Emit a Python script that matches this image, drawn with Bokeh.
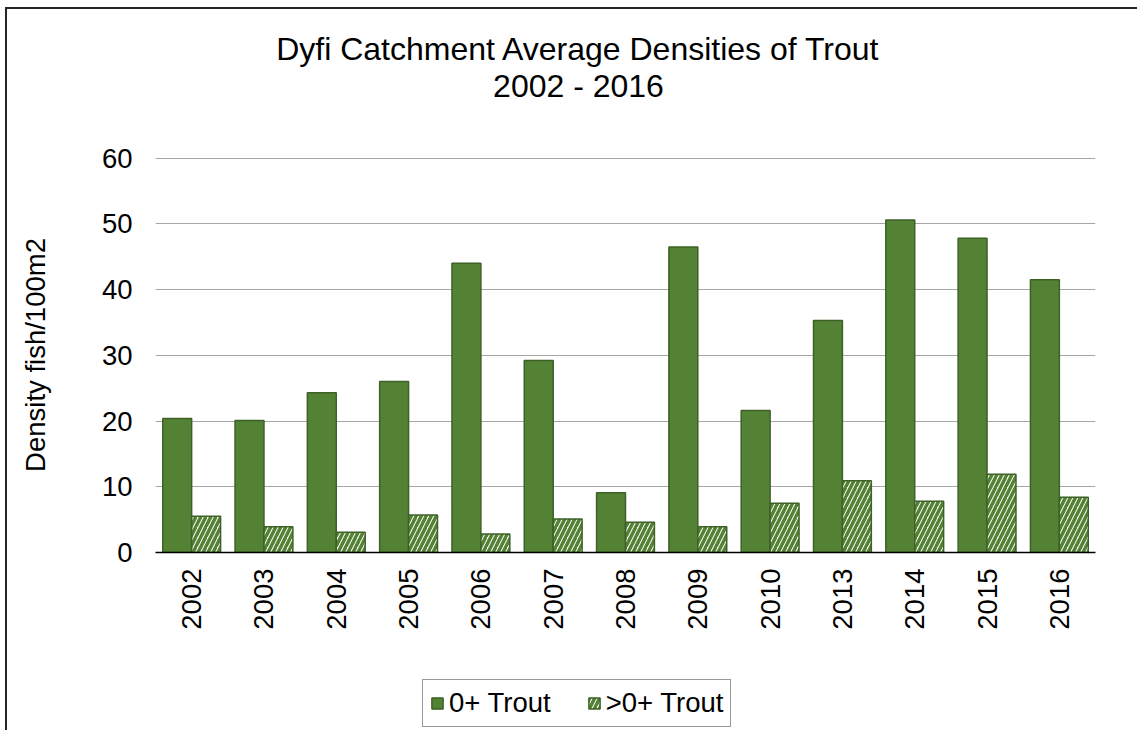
import math
from bokeh.plotting import figure
from bokeh.layouts import column
from bokeh.models import (FactorRange, FixedTicker, Legend, LegendItem, Label,
                          ColumnDataSource, Range1d)
from bokeh.transform import dodge
from bokeh.embed import file_html
from bokeh.resources import INLINE

years = ["2002", "2003", "2004", "2005", "2006", "2007", "2008", "2009",
         "2010", "2013", "2014", "2015", "2016"]
trout_0plus = [20.4, 20.1, 24.3, 26.0, 44.0, 29.2, 9.1, 46.5, 21.6, 35.3, 50.6, 47.8, 41.5]
trout_gt0plus = [5.5, 3.9, 3.1, 5.7, 2.8, 5.1, 4.6, 3.9, 7.5, 10.9, 7.8, 11.9, 8.4]
y_ticks = [0, 10, 20, 30, 40, 50, 60]
series_names = ["0+ Trout", ">0+ Trout"]
title_lines = ["Dyfi Catchment Average Densities of Trout", "2002 - 2016"]
y_label = "Density fish/100m2"

FONT = "Liberation Sans"
FS = "27.5px"
GREEN = "#548235"
EDGE = "#3d6127"
W = 1130
FRAME_W = 940  # width of the aligned plot frames

solid_style = dict(fill_color=GREEN, line_color=EDGE, line_width=1.5)
hatch_style = dict(fill_color="white", hatch_pattern="/", hatch_color=GREEN,
                   hatch_weight=3.5, hatch_scale=10, line_color=EDGE, line_width=1.5)


def bare(fig):
    fig.title.visible = False
    fig.outline_line_color = None
    fig.xgrid.grid_line_color = None
    fig.ygrid.grid_line_color = None
    fig.background_fill_color = "white"
    fig.border_fill_color = "white"
    return fig


# ---- title strip ----
pt = bare(figure(width=W, height=128, x_range=Range1d(0, FRAME_W), y_range=Range1d(0, 128),
                 x_axis_location=None, y_axis_location=None,
                 min_border_left=148, min_border_right=42, min_border_top=0,
                 min_border_bottom=0,
                 output_backend="svg", toolbar_location=None))
pt.add_layout(Label(x=423, y=89, text=title_lines[0], text_align="center",
                    text_baseline="middle", text_font=FONT, text_font_size="32px",
                    text_color="black"))
pt.add_layout(Label(x=423, y=52, text=title_lines[1], text_align="center",
                    text_baseline="middle", text_font=FONT, text_font_size="32px",
                    text_color="black"))

# ---- main chart ----
src = ColumnDataSource(dict(year=years, a=trout_0plus, b=trout_gt0plus))
p = figure(x_range=FactorRange(*years, range_padding=0), y_range=Range1d(0, 60.1),
           width=W, height=523, output_backend="svg", toolbar_location=None,
           min_border_left=148, min_border_right=42, min_border_top=20,
           min_border_bottom=108)
p.title.visible = False
p.outline_line_color = None
p.border_fill_color = "white"

p.vbar(x=dodge("year", -0.2, range=p.x_range), top="a", width=0.4, source=src,
       **solid_style)
p.vbar(x=dodge("year", 0.2, range=p.x_range), top="b", width=0.4, source=src,
       **hatch_style)

p.xgrid.grid_line_color = None
p.ygrid.grid_line_color = "#a6a6a6"
p.ygrid.grid_line_width = 1

p.yaxis.ticker = FixedTicker(ticks=y_ticks)
p.yaxis.axis_line_color = None
p.yaxis.major_tick_line_color = None
p.yaxis.minor_tick_line_color = None
p.yaxis.major_tick_out = 0
p.yaxis.major_tick_in = 0
p.yaxis.major_label_text_font = FONT
p.yaxis.major_label_text_font_size = FS
p.yaxis.major_label_text_color = "black"
p.yaxis.major_label_standoff = 23
p.yaxis.axis_label = y_label
p.yaxis.axis_label_text_font = FONT
p.yaxis.axis_label_text_font_size = FS
p.yaxis.axis_label_text_font_style = "normal"
p.yaxis.axis_label_text_color = "black"
p.yaxis.axis_label_standoff = 48

p.xaxis.axis_line_color = "black"
p.xaxis.axis_line_width = 1.5
p.xaxis.major_tick_line_color = None
p.xaxis.minor_tick_line_color = None
p.xaxis.major_tick_out = 0
p.xaxis.major_tick_in = 0
p.xaxis.major_label_orientation = math.pi / 2
p.xaxis.major_label_text_font = FONT
p.xaxis.major_label_text_font_size = FS
p.xaxis.major_label_text_color = "black"
p.xaxis.major_label_standoff = 16

# ---- legend strip ----
pl = bare(figure(width=W, height=70, x_range=Range1d(0, 1), y_range=Range1d(0, 1),
                 x_axis_location=None, y_axis_location=None,
                 min_border_left=148, min_border_right=42, min_border_top=0,
                 min_border_bottom=0,
                 output_backend="svg", toolbar_location=None))
# legend swatches only: one undrawable (NaN height) mark each
swatch = ColumnDataSource(dict(x=[0.5], top=[float("nan")]))
g1 = pl.vbar(x="x", top="top", width=0.1, source=swatch, **solid_style)
g2 = pl.vbar(x="x", top="top", width=0.1, source=swatch, **hatch_style)
legend = Legend(items=[LegendItem(label=series_names[0], renderers=[g1], index=0),
                       LegendItem(label=series_names[1], renderers=[g2], index=0)],
                orientation="horizontal", location=(267, 3),
                label_text_font=FONT, label_text_font_size=FS,
                label_text_color="black", glyph_width=14, glyph_height=14,
                label_standoff=5, spacing=36, padding=7, margin=0,
                border_line_color="#333333", border_line_width=1.5,
                background_fill_alpha=1)
pl.add_layout(legend)

layout = column(pt, p, pl, spacing=0,
                styles={"margin-left": "5px", "margin-top": "7px",
                        "border-top": "2px solid #262626",
                        "border-left": "2px solid #262626"})

open("out.html", "w").write(file_html(layout, INLINE))
